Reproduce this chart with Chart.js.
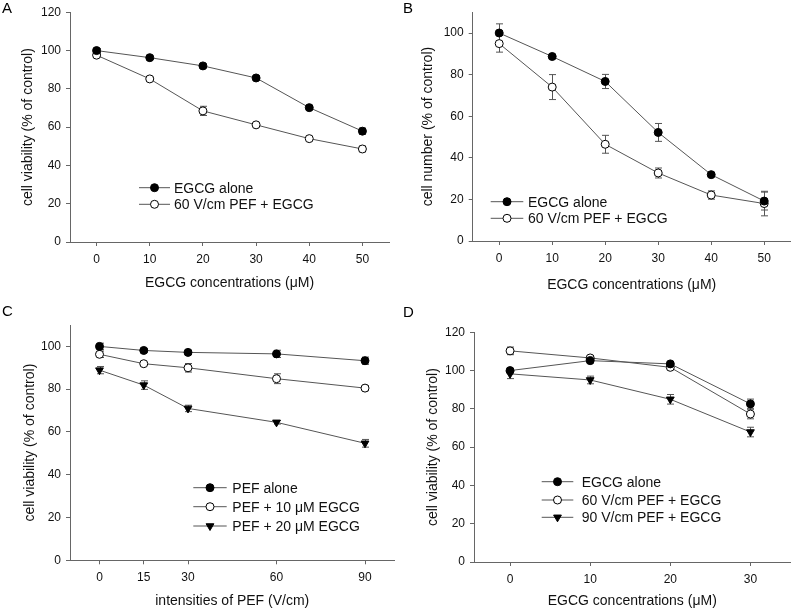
<!DOCTYPE html>
<html lang="en">
<head>
<meta charset="UTF-8">
<title>EGCG / PEF cell viability</title>
<style>
  body { margin: 0; background: #fff; }
  .panel { position: absolute; }
</style>
</head>
<body>
  <div class="panel" style="left:0;top:0"><canvas id="chartA" width="400" height="300"></canvas></div>
  <div class="panel" style="left:400px;top:0"><canvas id="chartB" width="396" height="300"></canvas></div>
  <div class="panel" style="left:0;top:300px"><canvas id="chartC" width="400" height="310"></canvas></div>
  <div class="panel" style="left:400px;top:300px"><canvas id="chartD" width="396" height="310"></canvas></div>
<script src="https://cdn.jsdelivr.net/npm/chart.js@4.4.0/dist/chart.umd.min.js"></script>
<script>
// --- data ---
// A: viability vs EGCG
var concA = [0, 10, 20, 30, 40, 50];
var egcgA = [100, 96.3, 92, 85.7, 70.2, 57.9];
var egcgErrA = [1, 0.8, 1, 1, 1, 1.6];
var pefA = [97.6, 85.2, 68.5, 61.2, 54, 48.6];
var pefErrA = [0.8, 0.8, 2.4, 0.6, 0.6, 1.5];

// B: cell number vs EGCG
var concB = [0, 10, 20, 30, 40, 50];
var egcgB = [100, 88.7, 76.7, 52.2, 31.9, 19.2];
var egcgErrB = [4.4, 0.8, 3.4, 4.3, 0.8, 4.3];
var pefB = [94.9, 74, 46.5, 32.7, 22.1, 18];
var pefErrB = [4.1, 6, 4.3, 2.4, 2, 5.9];

// C: viability vs PEF intensity
var fieldC = [0, 15, 30, 60, 90];
var pefAloneC = [100, 98.1, 97.2, 96.5, 93.3];
var pefAloneErrC = [1.5, 0.8, 1, 1.7, 1.7];
var pef10C = [96.3, 91.9, 90, 84.9, 80.5];
var pef10ErrC = [1.5, 0.5, 2, 2.3, 1.2];
var pef20C = [88.9, 81.9, 71, 64.5, 54.7];
var pef20ErrC = [1.7, 2, 1.5, 0.8, 1.8];

// D: viability vs EGCG at fixed PEF
var concD = [0, 10, 20, 30];
var egcgD = [100, 105.2, 103.5, 82.6];
var egcgErrD = [1, 1, 1, 2.5];
var pef60D = [110.3, 106.6, 101.7, 77.3];
var pef60ErrD = [2, 1, 1, 2.5];
var pef90D = [98.3, 95.1, 85, 67.9];
var pef90ErrD = [2.5, 2, 2.5, 2.5];

// tick labels
var xTicksAB = [0, 10, 20, 30, 40, 50];
var xTicksC = [0, 15, 30, 60, 90];
var xTicksD = [0, 10, 20, 30];
var yTicks120 = [0, 20, 40, 60, 80, 100, 120];
var yTicks100 = [0, 20, 40, 60, 80, 100];

var AXIS = '#666';
var LINE = '#555';
var FONT = "'Liberation Sans', Arial, sans-serif";
Chart.defaults.font.family = FONT;
Chart.defaults.color = '#111';

// error bars, drawn under the markers
var errorBars = {
    id: 'errorBars',
    beforeDatasetsDraw: function(chart) {
        var ctx = chart.ctx;
        var xs = chart.scales.x, ys = chart.scales.y;
        ctx.save();
        ctx.strokeStyle = LINE;
        ctx.lineWidth = 1;
        chart.data.datasets.forEach(function(ds) {
            ds.data.forEach(function(pt, i) {
                var e = ds.errors[i];
                var x = Math.round(xs.getPixelForValue(pt.x)) + 0.5;
                var top = ys.getPixelForValue(pt.y + e);
                var bot = ys.getPixelForValue(pt.y - e);
                ctx.beginPath();
                ctx.moveTo(x, top); ctx.lineTo(x, bot);
                ctx.moveTo(x - 3.5, top); ctx.lineTo(x + 3.5, top);
                ctx.moveTo(x - 3.5, bot); ctx.lineTo(x + 3.5, bot);
                ctx.stroke();
            });
        });
        ctx.restore();
    }
};

// legend inside the plot
var keyBox = {
    id: 'keyBox',
    afterDraw: function(chart, args, opts) {
        var ctx = chart.ctx;
        ctx.save();
        chart.data.datasets.forEach(function(ds, i) {
            var y = opts.rows[i];
            ctx.strokeStyle = LINE;
            ctx.lineWidth = 1;
            ctx.beginPath();
            ctx.moveTo(opts.x1, y); ctx.lineTo(opts.x2, y);
            ctx.stroke();
            ctx.fillStyle = ds.pointBackgroundColor;
            ctx.strokeStyle = '#000';
            Chart.helpers.drawPoint(ctx, {
                pointStyle: ds.pointStyle, radius: ds.pointRadius,
                rotation: ds.pointRotation, borderWidth: 1
            }, (opts.x1 + opts.x2) / 2, y);
            ctx.fillStyle = '#111';
            ctx.font = '14px ' + FONT;
            ctx.textBaseline = 'middle';
            ctx.textAlign = 'left';
            ctx.fillText(ds.label, opts.textX, y + 1);
        });
        ctx.restore();
    }
};

var panelTag = {
    id: 'panelTag',
    afterDraw: function(chart, args, opts) {
        var ctx = chart.ctx;
        ctx.save();
        ctx.fillStyle = '#000';
        ctx.font = '15px ' + FONT;
        ctx.textBaseline = 'alphabetic';
        ctx.fillText(opts.text, opts.x, opts.y);
        ctx.restore();
    }
};

function series(label, y, err, style, fill) {
    return { label: label, y: y, err: err, style: style, fill: fill };
}

function makePanel(id, p) {
    return new Chart(document.getElementById(id), {
        type: 'line',
        data: {
            datasets: p.series.map(function(s) {
                var tri = s.style === 'triangle';
                return {
                    label: s.label,
                    data: p.x.map(function(v, i) { return { x: v, y: s.y[i] }; }),
                    errors: s.err,
                    borderColor: LINE,
                    borderWidth: 1,
                    pointStyle: s.style,
                    pointRotation: tri ? 180 : 0,
                    pointRadius: tri ? 4.5 : 4,
                    pointBackgroundColor: s.fill,
                    pointBorderColor: '#000',
                    pointBorderWidth: 1,
                    tension: 0,
                    fill: false
                };
            })
        },
        options: {
            responsive: false,
            animation: false,
            events: [],
            layout: { padding: { left: 0, top: p.top, right: p.right, bottom: 0 } },
            plugins: {
                legend: { display: false },
                tooltip: { enabled: false },
                keyBox: p.key,
                panelTag: p.tag
            },
            scales: {
                x: {
                    type: 'linear',
                    min: p.xMin, max: p.xMax,
                    afterBuildTicks: function(sc) { sc.ticks = p.xTicks.map(function(v) { return { value: v }; }); },
                    afterFit: function(sc) { sc.height = p.xH; },
                    grid: { drawOnChartArea: false, drawTicks: true, tickLength: 4, color: AXIS },
                    border: { display: true, color: AXIS, width: 1 },
                    ticks: { font: { size: 12 }, padding: 6, maxRotation: 0, color: '#111' },
                    title: { display: true, text: p.xTitle, font: { size: 14 }, color: '#111',
                             padding: { top: 0, bottom: p.xTitlePad } }
                },
                y: {
                    type: 'linear',
                    min: 0, max: p.yMax,
                    afterBuildTicks: function(sc) { sc.ticks = p.yTicks.map(function(v) { return { value: v }; }); },
                    afterFit: function(sc) { sc.width = p.yW; },
                    grid: { drawOnChartArea: false, drawTicks: true, tickLength: 4, color: AXIS },
                    border: { display: true, color: AXIS, width: 1 },
                    ticks: { font: { size: 12 }, padding: 5, color: '#111' },
                    title: { display: true, text: p.yTitle, font: { size: 14 }, color: '#111',
                             padding: { top: p.yTitlePad, bottom: 0 } }
                }
            }
        },
        plugins: [errorBars, keyBox, panelTag]
    });
}

makePanel('chartA', {
    x: concA, xTicks: xTicksAB, xMin: -5, xMax: 55,
    yTicks: yTicks120, yMax: 120,
    xTitle: 'EGCG concentrations (\u03bcM)', yTitle: 'cell viability (% of control)',
    top: 12.3, right: 11, yW: 70, xH: 58, yTitlePad: 19.6, xTitlePad: 8.6,
    series: [
        series('EGCG alone', egcgA, egcgErrA, 'circle', '#000'),
        series('60 V/cm PEF + EGCG', pefA, pefErrA, 'circle', '#fff')
    ],
    key: { x1: 139, x2: 170, textX: 174, rows: [187.7, 204.3] },
    tag: { text: 'A', x: 2, y: 13 }
});

makePanel('chartB', {
    x: concB, xTicks: xTicksAB, xMin: -5, xMax: 55,
    yTicks: yTicks100, yMax: 110,
    xTitle: 'EGCG concentrations (\u03bcM)', yTitle: 'cell number (% of control)',
    top: 8.8, right: 5.3, yW: 72.7, xH: 59, yTitlePad: 19.3, xTitlePad: 6.6,
    series: [
        series('EGCG alone', egcgB, egcgErrB, 'circle', '#000'),
        series('60 V/cm PEF + EGCG', pefB, pefErrB, 'circle', '#fff')
    ],
    key: { x1: 90.7, x2: 123.3, textX: 128, rows: [201.7, 218.3] },
    tag: { text: 'B', x: 3, y: 13 }
});

makePanel('chartC', {
    x: fieldC, xTicks: xTicksC, xMin: -10, xMax: 100,
    yTicks: yTicks100, yMax: 110,
    xTitle: 'intensities of PEF (V/cm)', yTitle: 'cell viability (% of control)',
    top: 25, right: 1, yW: 70, xH: 49.7, yTitlePad: 21.6, xTitlePad: 0,
    series: [
        series('PEF alone', pefAloneC, pefAloneErrC, 'circle', '#000'),
        series('PEF + 10 \u03bcM EGCG', pef10C, pef10ErrC, 'circle', '#fff'),
        series('PEF + 20 \u03bcM EGCG', pef20C, pef20ErrC, 'triangle', '#000')
    ],
    key: { x1: 193.3, x2: 226.7, textX: 232.3, rows: [187.7, 206.7, 226] },
    tag: { text: 'C', x: 2, y: 15.7 }
});

makePanel('chartD', {
    x: concD, xTicks: xTicksD, xMin: -4.5, xMax: 35,
    yTicks: yTicks120, yMax: 120,
    xTitle: 'EGCG concentrations (\u03bcM)', yTitle: 'cell viability (% of control)',
    top: 32.3, right: 5.3, yW: 74, xH: 48, yTitlePad: 25, xTitlePad: 0,
    series: [
        series('EGCG alone', egcgD, egcgErrD, 'circle', '#000'),
        series('60 V/cm PEF + EGCG', pef60D, pef60ErrD, 'circle', '#fff'),
        series('90 V/cm PEF + EGCG', pef90D, pef90ErrD, 'triangle', '#000')
    ],
    key: { x1: 141.7, x2: 173.3, textX: 181.7, rows: [181.7, 200, 217.3] },
    tag: { text: 'D', x: 3, y: 16.7 }
});
</script>
</body>
</html>
